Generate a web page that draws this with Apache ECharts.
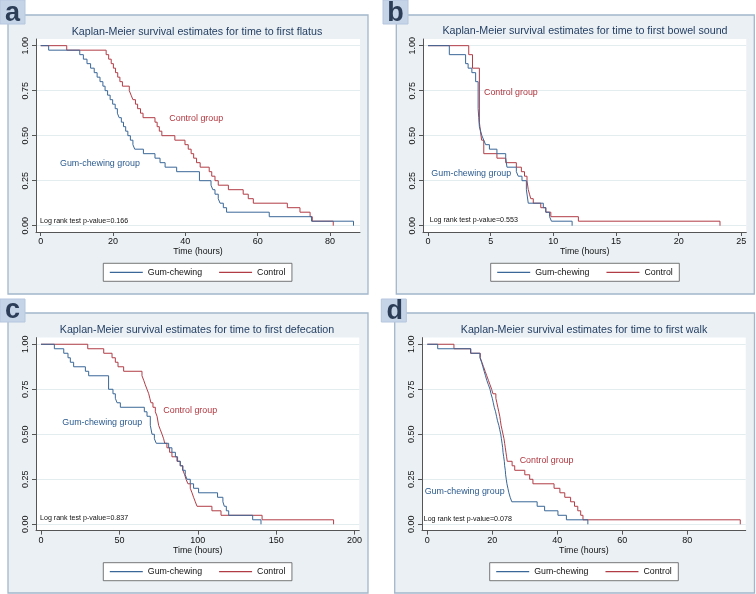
<!DOCTYPE html>
<html><head><meta charset="utf-8">
<script src="https://cdn.jsdelivr.net/npm/echarts@6/dist/echarts.min.js"></script>
<style>html,body{margin:0;padding:0;background:#fff}#c{width:756px;height:594px}</style>
</head><body><div id="c"></div>
<script>
// ---------- DATA ----------
const seriesNames = ['Gum-chewing', 'Control'];
const yTicks = [0, 0.25, 0.5, 0.75, 1];

// a: time to first flatus
const aTicks = [0, 20, 40, 60, 80];
const aGumT = [0, 2.2, 10.8, 11.8, 12.8, 13.8, 14.8, 15.6, 16.4, 17.2, 17.8, 18.5, 19.2, 19.9, 20.6, 21.2, 21.7, 22.3, 22.9, 23.5, 24.1, 24.8, 25.5, 26.0, 28.4, 31.6, 33.0, 34.4, 37.6, 43.9, 47.1, 47.6, 48.2, 49.1, 49.6, 50.5, 51.4, 63.2, 74.9, 86.5];
const aGumS = [1, .975, .95, .925, .9, .875, .85, .825, .8, .775, .75, .725, .7, .675, .65, .625, .6, .575, .55, .525, .5, .475, .45, .425, .4, .375, .35, .325, .3, .25, .225, .2, .175, .15, .125, .1, .075, .05, .025, 0];
const aCtrlT = [0, 7.2, 18.1, 18.8, 19.5, 20.1, 20.7, 21.3, 21.9, 22.6, 24.5, 25.0, 25.5, 26.2, 26.8, 27.6, 28.3, 31.6, 32.2, 32.8, 33.5, 37.1, 39.9, 40.8, 41.6, 42.3, 43.1, 44.1, 46.6, 47.3, 48.2, 49.1, 51.9, 56.0, 57.4, 58.8, 68.2, 71.7, 74.5, 75.1, 80.9];
const aCtrlS = [1, .975, .95, .925, .9, .875, .85, .825, .8, .775, .75, .725, .7, .675, .65, .625, .6, .575, .55, .525, .5, .475, .45, .425, .4, .375, .35, .325, .3, .275, .25, .225, .2, .175, .15, .125, .1, .075, .05, .025, 0];

// b: time to first bowel sound
const bTicks = [0, 5, 10, 15, 20, 25];
const bGumT = [0, 1.7, 3.0, 3.2, 3.5, 3.8, 4.0, 4.05, 4.1, 4.2, 4.3, 4.45, 4.6, 4.9, 5.5, 6.2, 6.3, 7.05, 7.2, 7.5, 7.85, 8.0, 9.2, 9.4, 9.7, 9.85, 11.5];
const bGumS = [1, .95, .9, .875, .85, .8, .65, .6, .55, .525, .5, .475, .45, .425, .4, .375, .325, .3, .275, .25, .2, .125, .1, .075, .05, .025, 0];
const bCtrlT = [0, 3.25, 3.55, 4.1, 4.18, 4.28, 4.45, 5.5, 6.2, 7.05, 7.45, 7.7, 7.9, 8.0, 8.1, 8.2, 8.4, 9.0, 9.4, 9.8, 12.0, 23.3];
const bCtrlS = [1, .95, .875, .575, .525, .475, .4, .375, .35, .325, .3, .275, .25, .2, .175, .15, .125, .1, .075, .05, .025, 0];

// c: time to first defecation
const cTicks = [0, 50, 100, 150, 200];
const cGumT = [0, 8.5, 14.5, 17.2, 18.7, 20.8, 28.3, 30.4, 43.1, 45.9, 47.4, 48.5, 50.6, 65.9, 67.6, 69.7, 70.8, 72.3, 73.5, 81.4, 83.5, 85.7, 87.1, 88.8, 90.3, 92.0, 93.1, 95.2, 97.3, 100.5, 112.6, 116.0, 116.9, 118.2, 119.7, 135.0, 140.3];
const cGumS = [1, .975, .95, .925, .9, .875, .85, .825, .75, .725, .7, .675, .65, .625, .6, .55, .5, .475, .45, .425, .4, .375, .35, .325, .3, .275, .25, .225, .2, .175, .15, .125, .1, .075, .05, .025, 0];
const cCtrlT = [0, 29.8, 40.0, 45.3, 47.4, 49.1, 52.7, 64.4, 65.5, 66.5, 67.6, 68.7, 69.4, 70.1, 71.4, 72.9, 74.0, 75.0, 76.1, 77.2, 78.2, 78.9, 80.3, 82.0, 83.5, 86.7, 88.8, 90.5, 91.6, 92.5, 93.7, 95.2, 96.3, 97.3, 98.4, 99.5, 109.0, 114.8, 141.0, 186.6];
const cCtrlS = [1, .975, .95, .925, .9, .875, .85, .825, .8, .775, .75, .725, .7, .675, .65, .625, .6, .55, .525, .5, .475, .45, .425, .4, .375, .35, .325, .3, .275, .25, .225, .2, .175, .15, .125, .1, .075, .05, .025, 0];

// d: time to first walk
const dTicks = [0, 20, 40, 60, 80];
const dGumT = [0, 3.2, 13.4, 16.2, 16.7, 17.1, 17.5, 17.9, 18.3, 18.8, 19.3, 19.6, 20.0, 20.3, 20.6, 21.0, 21.3, 21.6, 22.0, 22.3, 22.6, 22.8, 23.0, 23.2, 23.3, 23.5, 23.7, 23.8, 24.0, 24.1, 24.3, 24.5, 24.8, 25.1, 25.5, 26.0, 33.8, 36.1, 40.2, 42.8, 49.4];
const dGumS = [1, .975, .95, .925, .9, .875, .85, .825, .8, .775, .75, .725, .7, .675, .65, .625, .6, .575, .55, .525, .5, .475, .45, .425, .4, .375, .35, .325, .3, .275, .25, .225, .2, .175, .15, .125, .1, .075, .05, .025, 0];
const dCtrlT = [0, 8.2, 13.3, 16.3, 16.8, 17.3, 17.8, 18.3, 18.8, 19.3, 19.8, 20.2, 21.1, 21.4, 21.7, 22.0, 22.3, 22.5, 22.7, 23.0, 23.3, 23.6, 23.8, 24.0, 24.2, 24.4, 24.6, 26.1, 26.9, 30.0, 31.5, 32.5, 39.0, 40.8, 42.3, 44.1, 45.3, 46.3, 47.2, 47.9, 96.3];
const dCtrlS = [1, .975, .95, .925, .9, .875, .85, .825, .8, .775, .75, .725, .7, .675, .65, .625, .6, .575, .55, .525, .5, .475, .45, .425, .4, .375, .35, .325, .3, .275, .25, .225, .2, .175, .15, .125, .1, .075, .05, .025, 0];

const titles = [
  'Kaplan-Meier survival estimates for time to first flatus',
  'Kaplan-Meier survival estimates for time to first bowel sound',
  'Kaplan-Meier survival estimates for time to first defecation',
  'Kaplan-Meier survival estimates for time to first walk'
];
const pValues = ['Log rank test p-value=0.166', 'Log rank test p-value=0.553', 'Log rank test p-value=0.837', 'Log rank test p-value=0.078'];
const letters = ['a', 'b', 'c', 'd'];
const xName = 'Time (hours)';
const groupLabels = ['Gum-chewing group', 'Control group'];

// ---------- LAYOUT / STYLE ----------
const BLUE = '#3a6798', RED = '#b23c46';
const FONT = '"Liberation Sans", Arial, Helvetica, sans-serif';
const layout = [
  {grid:{left:36, top:39, width:324, height:193}, xMin:-1.3, xMax:88.3, ticks:aTicks, gum:[aGumT,aGumS], ctrl:[aCtrlT,aCtrlS],
   box:[8,15,360,279], lbox:[0,0,25,24], lpos:[12.5,13.1], tpos:[197,31.7], leg:[103.3,263.3],
   pv:[40,220.7], cg:[169.3,118.3], gg:[60,163.3]},
  {grid:{left:423, top:39, width:323.3, height:193}, xMin:-0.4, xMax:25.4, ticks:bTicks, gum:[bGumT,bGumS], ctrl:[bCtrlT,bCtrlS],
   box:[396.3,15,358,279], lbox:[383,0,25,24], lpos:[395.5,13.9], tpos:[585,31], leg:[490.7,263.3],
   pv:[429.7,220], cg:[484,92.7], gg:[431.3,173.3]},
  {grid:{left:36, top:337.6, width:323.3, height:193}, xMin:-3.2, xMax:203.0, ticks:cTicks, gum:[cGumT,cGumS], ctrl:[cCtrlT,cCtrlS],
   box:[8,313,360,280], lbox:[0,299,25,23], lpos:[12.5,310.6], tpos:[197,330.3], leg:[103.3,562.7],
   pv:[40,517.7], cg:[163.3,410.3], gg:[62.3,423]},
  {grid:{left:422, top:337.6, width:323.7, height:193}, xMin:-1.63, xMax:97.97, ticks:dTicks, gum:[dGumT,dGumS], ctrl:[dCtrlT,dCtrlS],
   box:[394.7,313,359.8,280], lbox:[381.3,299,25,23], lpos:[394.7,311.6], tpos:[584,330.3], leg:[489.7,562.7],
   pv:[423.7,518.7], cg:[519.7,460.3], gg:[424.7,492]}
];

function km(T, S) { return T.map((t, i) => [t, S[i]]); }

const grids = [], xAxes = [], yAxes = [], series = [], legends = [], graphics = [];
const axisCol = '#555';
layout.forEach((p, i) => {
  grids.push(Object.assign({show:true, backgroundColor:'#ffffff', borderWidth:0, containLabel:false}, p.grid));
  xAxes.push({
    type:'value', gridIndex:i, min:p.xMin, max:p.xMax,
    name:xName, nameLocation:'middle', nameGap:15.5,
    nameTextStyle:{fontFamily:FONT, fontSize:8.8, color:'#111'},
    axisLine:{show:true, onZero:false, lineStyle:{color:axisCol, width:1}},
    axisTick:{show:true, length:4, customValues:p.ticks, lineStyle:{color:axisCol}},
    axisLabel:{customValues:p.ticks, margin:5, fontFamily:FONT, fontSize:9, color:'#111'},
    splitLine:{show:false}
  });
  yAxes.push({
    type:'value', gridIndex:i, min:-0.035, max:1.037,
    axisLine:{show:true, onZero:false, lineStyle:{color:axisCol, width:1}},
    axisTick:{show:true, length:4, customValues:yTicks, lineStyle:{color:axisCol}},
    axisLabel:{customValues:yTicks, rotate:90, margin:6, fontFamily:FONT, fontSize:9, color:'#111',
      formatter:v => v.toFixed(2)},
    splitLine:{show:true, lineStyle:{color:'#e3ecef', width:1}}
  });
  series.push({type:'line', name:seriesNames[0], xAxisIndex:i, yAxisIndex:i, step:'end', symbol:'none',
    data:km(p.gum[0], p.gum[1]), lineStyle:{color:BLUE, width:1}, itemStyle:{color:BLUE}, z:3, silent:true});
  series.push({type:'line', name:seriesNames[1], xAxisIndex:i, yAxisIndex:i, step:'end', symbol:'none',
    data:km(p.ctrl[0], p.ctrl[1]), lineStyle:{color:RED, width:1}, itemStyle:{color:RED}, z:2, silent:true});
  legends.push({
    left:p.leg[0], top:p.leg[1], orient:'horizontal', data:seriesNames, icon:'rect',
    itemWidth:33, itemHeight:1.2, itemGap:17, padding:[4.5,6.5],
    backgroundColor:'#ffffff', borderColor:'#555', borderWidth:0.8, borderRadius:0,
    selectedMode:false, textStyle:{fontFamily:FONT, fontSize:8.8, color:'#111'}
  });
  // panel background & border
  graphics.push({type:'rect', z:-10, silent:true,
    shape:{x:p.box[0], y:p.box[1], width:p.box[2], height:p.box[3]},
    style:{fill:'#eaf0f4', stroke:'#a3b6cb', lineWidth:1.3}});
  // letter box
  graphics.push({type:'rect', z:50, silent:true,
    shape:{x:p.lbox[0], y:p.lbox[1], width:p.lbox[2], height:p.lbox[3]},
    style:{fill:'#c6d4e8', stroke:'#b5c6de', lineWidth:1}});
  graphics.push({type:'text', z:51, silent:true, x:p.lpos[0], y:p.lpos[1],
    style:{text:letters[i], align:'center', verticalAlign:'middle', fontFamily:FONT, fontWeight:'bold', fontSize:27, fill:'#2c3e57'}});
  // title
  graphics.push({type:'text', z:20, silent:true, x:p.tpos[0], y:p.tpos[1],
    style:{text:titles[i], align:'center', verticalAlign:'middle', fontFamily:FONT, fontSize:10.7, fill:'#1f3a5f'}});
  // p-value
  graphics.push({type:'text', z:20, silent:true, x:p.pv[0], y:p.pv[1],
    style:{text:pValues[i], align:'left', verticalAlign:'middle', fontFamily:FONT, fontSize:7.1, fill:'#111'}});
  // group labels
  graphics.push({type:'text', z:20, silent:true, x:p.cg[0], y:p.cg[1],
    style:{text:groupLabels[1], align:'left', verticalAlign:'middle', fontFamily:FONT, fontSize:8.9, fill:'#b0363f'}});
  graphics.push({type:'text', z:20, silent:true, x:p.gg[0], y:p.gg[1],
    style:{text:groupLabels[0], align:'left', verticalAlign:'middle', fontFamily:FONT, fontSize:8.9, fill:'#2a5a8e'}});
});

const chart = echarts.init(document.getElementById('c'), null, {renderer:'canvas', width:756, height:594});
chart.setOption({
  animation:false,
  backgroundColor:'#ffffff',
  grid:grids, xAxis:xAxes, yAxis:yAxes, series:series, legend:legends,
  graphic:{elements:graphics}
});
</script>
</body></html>
